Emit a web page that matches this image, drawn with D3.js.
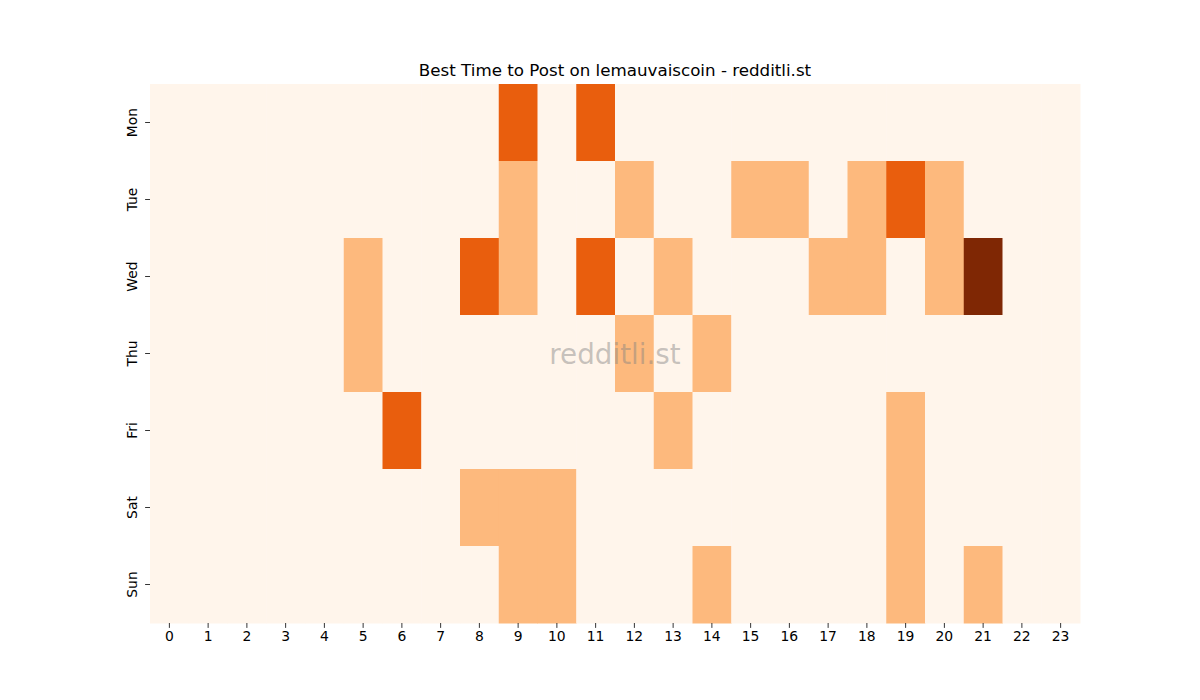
<!DOCTYPE html>
<html><head>
<meta charset="utf-8">
<script src="https://d3js.org/d3.v7.min.js"></script>
<style>
  body { margin: 0; background: #fff; }
  text { font-family: "DejaVu Sans", sans-serif; }
  .axis .domain { stroke: none; }
  .axis line { stroke: #000; stroke-width: 0.8px; }
  .axis text { font-size: 13.9px; fill: #000; }
</style>
</head>
<body>
<svg id="chart" width="1200" height="700"></svg>
<script>
// data: posts per weekday / hour
const days = ["Mon", "Tue", "Wed", "Thu", "Fri", "Sat", "Sun"];
const hours = d3.range(24);
const mon = [0,0,0,0,0,0,0,0,0,2,0,2,0,0,0,0,0,0,0,0,0,0,0,0];
const tue = [0,0,0,0,0,0,0,0,0,1,0,0,1,0,0,1,1,0,1,2,1,0,0,0];
const wed = [0,0,0,0,0,1,0,0,2,1,0,2,0,1,0,0,0,1,1,0,1,3,0,0];
const thu = [0,0,0,0,0,1,0,0,0,0,0,0,1,0,1,0,0,0,0,0,0,0,0,0];
const fri = [0,0,0,0,0,0,2,0,0,0,0,0,0,1,0,0,0,0,0,1,0,0,0,0];
const sat = [0,0,0,0,0,0,0,0,1,1,1,0,0,0,0,0,0,0,0,1,0,0,0,0];
const sun = [0,0,0,0,0,0,0,0,0,1,1,0,0,0,1,0,0,0,0,1,0,1,0,0];
const rows = [mon, tue, wed, thu, fri, sat, sun];

const svg = d3.select("#chart");
const margin = { top: 84, right: 120, bottom: 77, left: 150 };
const chartWidth = 1200 - margin.left - margin.right;
const chartHeight = 700 - margin.top - margin.bottom;

const chartArea = svg.append("g").attr("transform", "translate(" + margin.left + "," + margin.top + ")");

const xScale = d3.scaleBand().domain(hours).range([0, chartWidth]);
const yScale = d3.scaleBand().domain(days).range([0, chartHeight]);
// matplotlib "Oranges" sampled at 0, 1/3, 2/3, 1
const colorScale = d3.scaleLinear().domain([0, 1, 2, 3])
  .range(["#fff5eb", "#fdb97d", "#e95e0d", "#7f2704"]);

const cells = [];
rows.forEach((r, i) => r.forEach((v, h) => cells.push({ day: days[i], hour: h, value: v })));

chartArea.selectAll("rect.cell").data(cells)
  .enter().append("rect")
  .attr("class", "cell")
  .attr("x", d => xScale(d.hour))
  .attr("y", d => yScale(d.day))
  .attr("width", xScale.bandwidth() + 0.5)
  .attr("height", yScale.bandwidth() + 0.5)
  .attr("fill", d => colorScale(d.value));

// axes
const xAxis = d3.axisBottom(xScale).tickSize(4.9).tickPadding(3.5);
chartArea.append("g").attr("class", "x axis")
  .attr("transform", "translate(0," + chartHeight + ")")
  .call(xAxis);

const yAxis = d3.axisLeft(yScale).tickSize(4.9).tickPadding(3.5);
const yAxisArea = chartArea.append("g").attr("class", "y axis").call(yAxis);
yAxisArea.selectAll("text")
  .attr("transform", d => "translate(" + (-13) + "," + yScale(d) + ") rotate(-90)")
  .attr("x", 0).attr("y", 0).attr("dy", "0")
  .attr("text-anchor", "middle");
yAxisArea.selectAll(".tick").attr("transform", null);
yAxisArea.selectAll(".tick line").attr("transform", d => "translate(0," + (yScale(d) + yScale.bandwidth() / 2) + ")");
yAxisArea.selectAll(".tick text")
  .attr("transform", d => "translate(-13," + (yScale(d) + yScale.bandwidth() / 2) + ") rotate(-90)");

// title
svg.append("text")
  .attr("x", margin.left + chartWidth / 2)
  .attr("y", margin.top - 8)
  .attr("text-anchor", "middle")
  .style("font-size", "16.7px")
  .text("Best Time to Post on lemauvaiscoin - redditli.st");

// watermark
svg.append("text")
  .attr("x", margin.left + chartWidth / 2)
  .attr("y", margin.top + chartHeight / 2 + 10)
  .attr("text-anchor", "middle")
  .style("font-size", "27.8px")
  .attr("fill", "#808080")
  .attr("fill-opacity", 0.45)
  .text("redditli.st");
</script>
</body></html>
